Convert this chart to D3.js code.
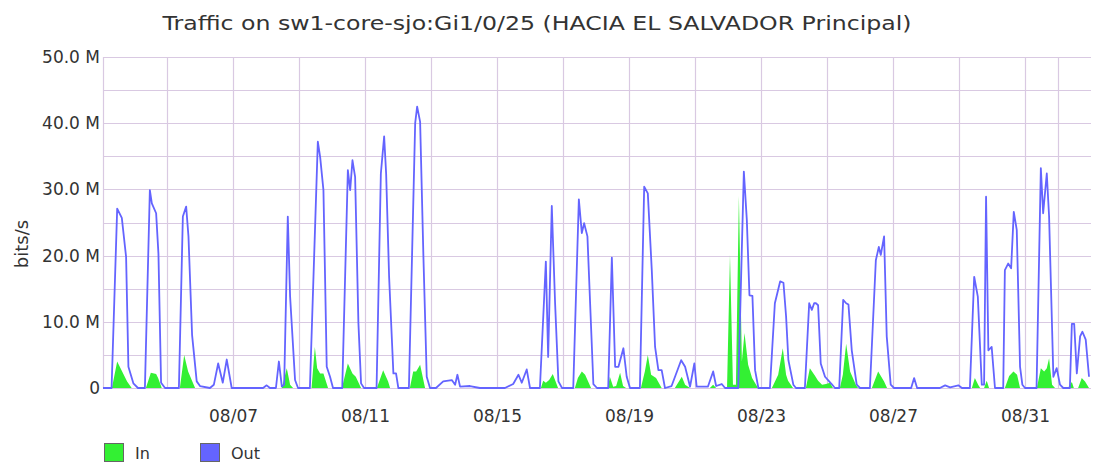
<!DOCTYPE html>
<html>
<head>
<meta charset="utf-8">
<script src="https://cdn.jsdelivr.net/npm/d3@7"></script>
<style>
  html, body { margin: 0; padding: 0; background: #fff; }
  svg { display: block; }
  text { font-family: "DejaVu Sans", sans-serif; fill: #333; }
</style>
</head>
<body>
<svg id="chart" width="1093" height="463"></svg>
<script>
// ---- data (days offset from 08/03 00:00, values in Mbit/s) ----
const title = "Traffic on sw1-core-sjo:Gi1/0/25 (HACIA EL SALVADOR Principal)";
const yLabel = "bits/s";
const seriesNames = ["In", "Out"];
const yTicks = [0, 10, 20, 30, 40, 50];
const yTickLabels = ["0", "10.0 M", "20.0 M", "30.0 M", "40.0 M", "50.0 M"];
const xTickLabels = ["08/07", "08/11", "08/15", "08/19", "08/23", "08/27", "08/31"];

const outDays = [0.06,0.32,0.49,0.63,0.76,0.83,0.98,1.12,1.33,1.48,1.54,1.67,1.74,1.82,1.94,2.36,2.48,2.58,2.65,2.76,2.90,3.00,3.30,3.42,3.55,3.69,3.81,3.96,4.91,5.02,5.12,5.30,5.39,5.48,5.55,5.66,5.73,5.88,5.97,6.33,6.57,6.64,6.74,6.84,6.94,7.03,7.31,7.48,7.55,7.62,7.70,7.80,7.88,7.97,8.35,8.48,8.58,8.64,8.73,8.86,8.94,9.01,9.33,9.52,9.58,9.67,9.77,9.87,9.97,10.15,10.37,10.63,10.73,10.80,10.88,11.18,11.48,12.24,12.49,12.65,12.75,12.90,13.00,13.30,13.48,13.55,13.66,13.76,13.86,13.97,14.31,14.48,14.57,14.64,14.74,14.92,15.03,15.37,15.48,15.58,15.68,15.83,15.93,16.03,16.33,16.46,16.57,16.69,16.79,16.89,16.99,17.09,17.29,17.58,17.70,17.85,17.98,18.05,18.39,18.55,18.64,18.81,18.91,19.31,19.48,19.57,19.65,19.74,19.82,19.92,20.27,20.42,20.58,20.68,20.76,20.83,20.98,21.06,21.33,21.46,21.54,21.61,21.67,21.73,21.81,21.94,22.14,22.24,22.37,22.49,22.58,22.65,22.75,22.90,23.00,23.30,23.48,23.57,23.63,23.73,23.81,23.93,24.03,24.55,24.64,24.73,25.42,25.58,25.73,25.98,26.09,26.33,26.46,26.57,26.69,26.76,26.82,26.89,26.99,27.09,27.34,27.39,27.49,27.58,27.66,27.75,27.85,27.92,28.00,28.35,28.48,28.55,28.66,28.73,28.86,28.96,29.06,29.16,29.36,29.42,29.49,29.57,29.67,29.74,29.84,29.94];
const outMbps = [0,0,27.1,25.7,19.8,3.2,0.7,0,0,29.9,27.9,26.4,20.3,0.8,0,0,25.9,27.4,22.9,8,1.0,0.3,0,0.5,3.7,0.8,4.3,0,0,0.4,0,0,4.0,0.2,0.5,25.9,13.8,1.2,0,0,37.2,34.9,29.9,3.2,1.7,0,0,32.9,29.9,34.4,31.9,9.8,0.7,0,0,32.4,38.0,32.4,16.8,2.2,2.2,0,0,40.0,42.5,40.2,19.8,1.7,0,0,1.0,1.2,0.5,2.0,0.2,0.3,0,0,0.6,2.0,0.8,2.8,0,0,19.1,4.7,27.5,12.8,1.0,0,0,28.5,23.4,24.9,22.9,0.6,0,0,19.7,3.2,3.2,6.0,1.7,0,0,30.4,29.4,17.8,6.2,2.7,2.7,0,0.3,4.2,3.2,0.2,3.7,0.2,0.2,2.5,0.3,0.6,0,0,32.7,25.4,14.0,13.9,2.7,0,0,12.8,16.1,15.9,10.8,4.2,0.5,0,0,12.8,11.8,12.8,12.8,12.5,3.7,1.7,0.6,0,0,13.3,12.8,12.6,5.7,0.5,0,0,19.3,21.3,20.1,22.9,7.8,0.5,0,0,1.5,0,0,0.4,0.1,0.4,0,0,16.8,13.8,0.5,0.5,28.9,5.7,6.2,0,0,17.8,18.8,18.1,26.6,23.9,3.2,0.5,0,0,33.2,26.4,32.4,25.9,1.7,3.0,0.5,0,0,9.7,9.7,2.2,7.8,8.5,7.3,1.7];

const inDays = [0.06,0.33,0.49,0.64,0.79,0.93,1.36,1.51,1.67,1.73,1.84,2.39,2.52,2.64,2.85,5.48,5.63,5.73,5.82,6.38,6.48,6.55,6.64,6.74,6.88,7.30,7.48,7.62,7.72,7.88,8.36,8.55,8.70,8.76,9.36,9.46,9.55,9.67,9.82,13.33,13.40,13.48,13.58,13.69,13.85,14.36,14.45,14.57,14.67,14.85,15.36,15.42,15.52,15.61,15.73,15.82,15.91,16.36,16.48,16.57,16.67,16.82,16.99,17.39,17.60,17.70,17.85,18.45,18.55,18.64,18.97,19.06,19.15,19.24,19.33,19.42,19.50,19.61,19.73,19.91,20.33,20.52,20.66,20.76,20.82,20.97,21.36,21.48,21.64,21.73,21.85,21.97,22.09,22.18,22.39,22.48,22.58,22.70,22.88,22.94,23.36,23.55,23.73,23.82,26.39,26.48,26.58,26.64,26.76,26.84,26.91,27.39,27.52,27.65,27.76,27.85,28.36,28.48,28.58,28.66,28.73,28.82,28.91,29.30,29.42,29.48,29.61,29.72,29.82,29.94];
const inMbps = [0,0,4.0,2.5,1.0,0,0,2.3,2.1,1.5,0,0,5.0,2.5,0,0,3.0,0.5,0,0,6.2,3.0,2.2,2.2,0,0,3.7,2.2,1.7,0,0,2.7,1.0,0,0,2.5,2.5,3.5,0,0,1.1,0.8,1.2,2.1,0,0,1.5,2.5,2.0,0,0,1.7,0.2,0.3,2.3,0.3,0,0,2.5,5.0,2.0,1.5,0,0,1.7,0.5,0,0,0.5,0,0,20.1,0.5,0.5,29.0,4.0,8.3,3.5,1.5,0,0,2.0,6.0,2.0,1.1,0,0,3.0,1.8,1.1,0.5,0.6,0.8,0,0,2.0,6.7,2.5,0.4,0,0,2.5,1.0,0,0,1.5,0.5,0,0,1.1,0,0,1.8,2.5,2.0,0,0,3.0,2.5,3.0,4.5,0.5,0,0,0.9,0,0,1.5,1.0,0];

// ---- layout ----
const svg = d3.select("#chart");
const plotLeft = 103, plotRight = 1091, plotTop = 57, plotBottom = 388;
const baseDate = new Date(2023, 7, 3, 0, 0, 0);
const dayMs = 86400000;
const toDate = d => new Date(baseDate.getTime() + d * dayMs);

const x = d3.scaleTime()
  .domain([toDate(0.06), toDate(30.0)])
  .range([plotLeft, plotRight]);
const y = d3.scaleLinear().domain([0, 50]).range([plotBottom, plotTop]);

const gridColor = "#d9c9e2";

// horizontal grid every 5M
const g = svg.append("g");
g.selectAll("line.h").data(d3.range(0, 55, 5)).join("line")
  .attr("x1", plotLeft).attr("x2", plotRight)
  .attr("y1", d => Math.round(y(d)) + 0.5).attr("y2", d => Math.round(y(d)) + 0.5)
  .attr("stroke", gridColor).attr("stroke-width", 1.2);

// vertical grid every 2 days
const vDates = d3.timeDay.every(2).range(new Date(2023, 7, 5), new Date(2023, 8, 1, 1));
g.selectAll("line.v").data(vDates).join("line")
  .attr("x1", d => Math.round(x(d)) + 0.5).attr("x2", d => Math.round(x(d)) + 0.5)
  .attr("y1", plotTop).attr("y2", plotBottom)
  .attr("stroke", gridColor).attr("stroke-width", 1.2);
g.append("line").attr("x1", plotLeft + 0.5).attr("x2", plotLeft + 0.5)
  .attr("y1", plotTop).attr("y2", plotBottom).attr("stroke", gridColor).attr("stroke-width", 1.2);

// y axis labels
const yAxis = d3.axisLeft(y).tickValues(yTicks)
  .tickFormat((d, i) => yTickLabels[i]).tickSize(0).tickPadding(3);
const ya = svg.append("g").attr("transform", `translate(${plotLeft},0)`).call(yAxis);
ya.select(".domain").remove();
ya.selectAll("text").attr("font-size", 17).attr("font-family", "DejaVu Sans, sans-serif").attr("fill", "#333");

// x axis labels
const xTickDates = xTickLabels.map(s => {
  const [m, d] = s.split("/").map(Number);
  return new Date(2023, m - 1, d);
});
const xAxis = d3.axisBottom(x).tickValues(xTickDates)
  .tickFormat((d, i) => xTickLabels[i]).tickSize(0).tickPadding(22);
const xa = svg.append("g").attr("transform", `translate(0,${plotBottom})`).call(xAxis);
xa.select(".domain").remove();
xa.selectAll("text").attr("font-size", 17).attr("font-family", "DejaVu Sans, sans-serif").attr("fill", "#333");

// series
const inData = inDays.map((d, i) => ({ t: toDate(d), v: inMbps[i] }));
const outData = outDays.map((d, i) => ({ t: toDate(d), v: outMbps[i] }));

const inColor = "#33f033";
const outColor = "#6464ff";

svg.append("path").datum(inData)
  .attr("d", d3.area().x(d => x(d.t)).y0(y(0)).y1(d => y(d.v)))
  .attr("fill", inColor);

svg.append("path").datum(outData)
  .attr("d", d3.line().x(d => x(d.t)).y(d => y(d.v)))
  .attr("fill", "none").attr("stroke", outColor).attr("stroke-width", 1.8)
  .attr("stroke-linejoin", "round");

// title
svg.append("text").attr("x", 537).attr("y", 30).attr("text-anchor", "middle")
  .attr("font-size", 20).attr("textLength", 749).attr("lengthAdjust", "spacingAndGlyphs")
  .text(title);

// y label
svg.append("text").attr("transform", "translate(28,244) rotate(-90)")
  .attr("text-anchor", "middle").attr("font-size", 18).text(yLabel);

// legend
const legend = svg.append("g");
const colors = [inColor, outColor];
const lx = [104, 200];
seriesNames.forEach((n, i) => {
  legend.append("rect").attr("x", lx[i] + 0.5).attr("y", 443.5).attr("width", 19).attr("height", 18)
    .attr("fill", colors[i]).attr("stroke", "#666").attr("stroke-width", 1);
  legend.append("text").attr("x", lx[i] + 31).attr("y", 459).attr("font-size", 16).text(n);
});
</script>
</body>
</html>
